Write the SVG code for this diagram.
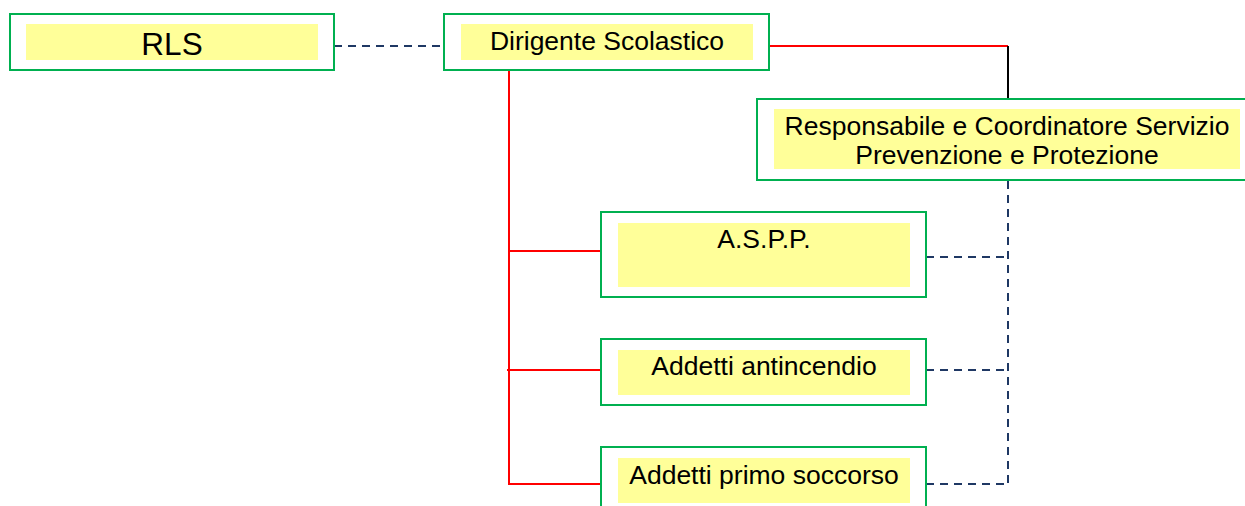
<svg xmlns="http://www.w3.org/2000/svg" width="1245" height="506" viewBox="0 0 1245 506">
<style>
.box{fill:#FFFFFF;stroke:#00B050;stroke-width:2}
.hl{fill:#FFFF99}
.t{font-family:"Liberation Sans",Arial,sans-serif;font-size:26.5px;fill:#000;text-anchor:middle}
.red{stroke:#FF0000;stroke-width:2;fill:none}
.blk{stroke:#000;stroke-width:2;fill:none}
.dash{stroke:#1F3864;stroke-width:2;fill:none;stroke-dasharray:8 6}
</style>
<rect width="1245" height="506" fill="#FFFFFF"/>
<g id="connectors">
<line class="dash" x1="334" y1="46" x2="444" y2="46"/>
<polyline class="red" points="769,46 1008,46"/>
<line class="blk" x1="1008" y1="46" x2="1008" y2="99"/>
<polyline class="red" points="509,70 509,484 601,484"/>
<line class="red" x1="509" y1="251" x2="601" y2="251"/>
<line class="red" x1="507" y1="370" x2="601" y2="370"/>
<line class="dash" x1="1008" y1="181" x2="1008" y2="484"/>
<line class="dash" x1="926" y1="257" x2="1008" y2="257"/>
<line class="dash" x1="926" y1="370" x2="1008" y2="370"/>
<line class="dash" x1="926" y1="484" x2="1008" y2="484"/>
</g>
<g id="rls">
<rect class="box" x="10" y="14" width="324" height="56"/>
<rect class="hl" x="26" y="24" width="292" height="36"/>
<text class="t" x="172" y="55" style="font-size:31.5px">RLS</text>
</g>
<g id="dirigente">
<rect class="box" x="444" y="14" width="325" height="56"/>
<rect class="hl" x="461" y="24" width="292" height="36"/>
<text class="t" x="607" y="50">Dirigente Scolastico</text>
</g>
<g id="rspp">
<rect class="box" x="757" y="99" width="500" height="81"/>
<rect class="hl" x="774" y="109" width="466" height="60"/>
<text class="t" x="1007" y="135">Responsabile e Coordinatore Servizio</text>
<text class="t" x="1007" y="164">Prevenzione e Protezione</text>
</g>
<g id="aspp">
<rect class="box" x="601" y="212" width="325" height="85"/>
<rect class="hl" x="618" y="223" width="292" height="64"/>
<text class="t" x="764" y="248">A.S.P.P.</text>
</g>
<g id="antincendio">
<rect class="box" x="601" y="339" width="325" height="66"/>
<rect class="hl" x="618" y="350" width="292" height="45"/>
<text class="t" x="764" y="375">Addetti antincendio</text>
</g>
<g id="primo">
<rect class="box" x="601" y="447" width="325" height="70"/>
<rect class="hl" x="618" y="458" width="292" height="45"/>
<text class="t" x="764" y="484">Addetti primo soccorso</text>
</g>
</svg>
